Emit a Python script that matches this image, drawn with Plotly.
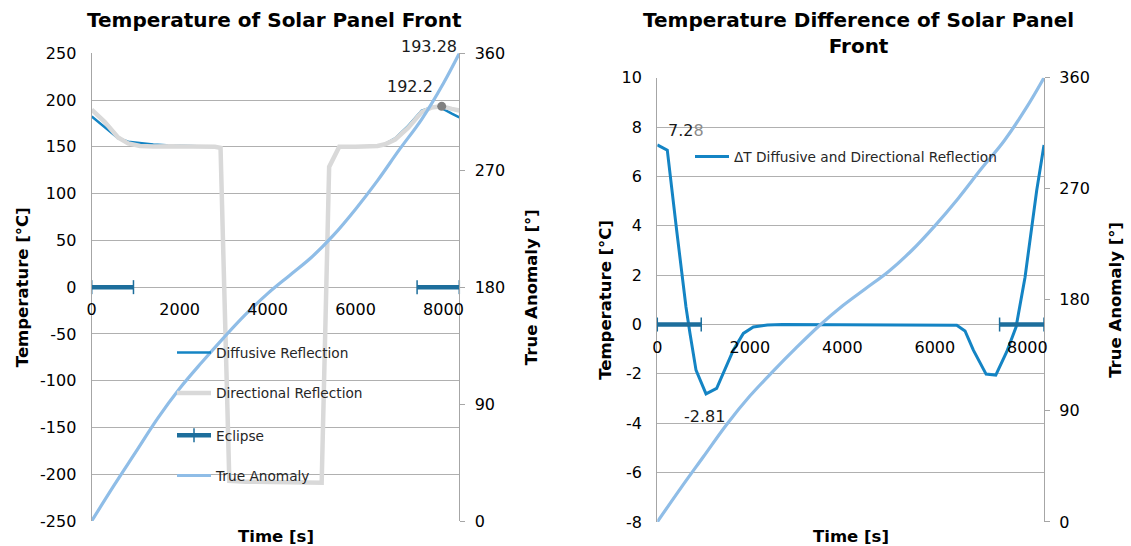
import plotly.graph_objects as go

# ---------------- data ----------------
# Left chart: temperatures of solar panel front
time_temp = [0, 300, 600, 830, 1100, 1400, 1800, 2100, 2500, 2800, 2930, 3130, 3500, 4500,
             5230, 5400, 5630, 6000, 6300, 6500, 6670, 6900, 7200, 7500, 7730, 7960, 8190, 8360]
diffusive = [182.5, 170.5, 159.2, 155.4, 153.8, 152.6, 151.3, 150.8, 150.3, 150.1, 149.0, -207, -208, -209,
             -209, 128.6, 150, 150, 150.3, 151.0, 153.0, 159.0, 172.5, 188.5, 192.2, 191.4, 185.5, 181.6]
directional = [189.8, 176.5, 160.0, 153.6, 151.0, 150.3, 150.6, 150.7, 150.3, 150.1, 149.0, -207, -208, -209,
               -209, 128.6, 150, 150, 150.3, 150.9, 152.7, 157.8, 170.5, 187.0, 192.0, 193.28, 190.6, 188.9]

# Right chart: temperature difference (directional - diffusive)
time_dt = [0, 216, 419, 620, 707, 837, 1053, 1283, 1643, 1860, 2076, 2380, 2700, 4000, 5900,
           6474, 6653, 6833, 7108, 7317, 7555, 7756, 7950, 8094, 8202, 8360]
delta_t = [7.28, 7.07, 3.81, 0.71, -0.36, -1.85, -2.81, -2.59, -1.04, -0.36, -0.10, -0.02, 0.0, 0.0, 0.0,
           -0.03, -0.26, -1.04, -2.01, -2.05, -1.10, -0.10, 1.92, 3.81, 5.43, 7.28]

# True anomaly (shared by both charts, secondary axis)
time_anom = [0, 500, 1000, 1500, 2000, 2500, 3000, 3500, 4000, 4500, 5000, 5500, 6000, 6500, 7000, 7500, 8000, 8360]
true_anomaly = [0, 27, 53, 79, 102, 122, 141, 159, 175, 189, 203, 220, 240, 262, 286, 309, 337, 360]

# Eclipse intervals (drawn on the 0 line)
eclipse_t = [0, 950, None, 7400, 8360]
eclipse_v = [0, 0, None, 0, 0]

# Data labels
peak_labels = ["193.28", "192.2"]
dt_labels = ["7.28", "-2.81"]

# Tick values / labels
x_ticks = [0, 2000, 4000, 6000, 8000]
x_ticktext = ["0", "2000", "4000", "6000", "8000"]
temp_ticks = [-250, -200, -150, -100, -50, 0, 50, 100, 150, 200, 250]
temp_ticktext = ["-250", "-200", "-150", "-100", "-50", "0", "50", "100", "150", "200", "250"]
dt_ticks = [-8, -6, -4, -2, 0, 2, 4, 6, 8, 10]
dt_ticktext = ["-8", "-6", "-4", "-2", "0", "2", "4", "6", "8", "10"]
anom_ticks = [0, 90, 180, 270, 360]
anom_ticktext = ["0", "90", "180", "270", "360"]
X_MAX = 8360

# ---------------- style ----------------
FONT = "DejaVu Sans"
W, H = 1131, 546
C_DIFF = "#1484c4"
C_DIR = "#d9d9d9"
C_ECL = "#1d6e9c"
C_ANOM = "#8fbde7"
GRID = "#b0b0b0"
AXLINE = "#a6a6a6"


def px(x):
    return x / W


def py(y):
    return 1 - y / H


fig = go.Figure()

# ---- left chart traces ----
fig.add_trace(go.Scatter(x=time_temp, y=diffusive, name="Diffusive Reflection", mode="lines",
                         line=dict(color=C_DIFF, width=2.5), xaxis="x", yaxis="y", legend="legend"))
fig.add_trace(go.Scatter(x=time_temp, y=directional, name="Directional Reflection", mode="lines",
                         line=dict(color=C_DIR, width=4.5), xaxis="x", yaxis="y", legend="legend2"))
fig.add_trace(go.Scatter(x=[time_temp[25]], y=[directional[25]], mode="markers", showlegend=False,
                         marker=dict(color="#808080", size=9), xaxis="x", yaxis="y"))
fig.add_trace(go.Scatter(x=eclipse_t, y=eclipse_v, name="Eclipse", mode="lines+markers",
                         line=dict(color=C_ECL, width=4.5),
                         marker=dict(symbol="line-ns", size=10, line=dict(color=C_ECL, width=1.5)),
                         cliponaxis=False, xaxis="x", yaxis="y", legend="legend3"))
fig.add_trace(go.Scatter(x=time_anom, y=true_anomaly, name="True Anomaly", mode="lines",
                         line=dict(color=C_ANOM, width=3.2, shape="spline"),
                         xaxis="x", yaxis="y2", legend="legend4"))

# ---- right chart traces ----
fig.add_trace(go.Scatter(x=time_dt, y=delta_t, name="ΔT Diffusive and Directional Reflection", mode="lines",
                         line=dict(color=C_DIFF, width=3), xaxis="x3", yaxis="y3", legend="legend5"))
fig.add_trace(go.Scatter(x=eclipse_t, y=eclipse_v, mode="lines+markers", showlegend=False,
                         line=dict(color=C_ECL, width=4.5),
                         marker=dict(symbol="line-ns", size=10, line=dict(color=C_ECL, width=1.5)),
                         cliponaxis=False, xaxis="x3", yaxis="y3"))
fig.add_trace(go.Scatter(x=time_anom, y=true_anomaly, mode="lines", showlegend=False,
                         line=dict(color=C_ANOM, width=3.2, shape="spline"),
                         xaxis="x3", yaxis="y4"))

tickfont = dict(family=FONT, size=16, color="#000000")

L_X0, L_X1 = 91.7, 459.3
L_Y0, L_Y1 = 53.3, 521.0
R_X0, R_X1 = 657.3, 1044.0
R_Y0, R_Y1 = 77.8, 521.9

common_x = dict(range=[0, X_MAX], tickvals=x_ticks, ticktext=x_ticktext, showgrid=False, showline=False,
                zeroline=False, ticks="", tickfont=tickfont, anchor="free", ticklabelstandoff=11,
                automargin=False)
common_y = dict(showgrid=True, gridcolor=GRID, gridwidth=1.3, showline=True, linecolor=AXLINE,
                linewidth=1.3, zeroline=False, ticks="", tickfont=tickfont, ticklabelstandoff=11,
                automargin=False)
common_y2 = dict(range=[0, 360], tickvals=anom_ticks, ticktext=anom_ticktext, side="right", showgrid=False,
                 showline=True, linecolor=AXLINE, linewidth=1.3, ticks="outside", ticklen=5, tickcolor=AXLINE,
                 zeroline=False, tickfont=tickfont, ticklabelstandoff=6, automargin=False)

fig.update_layout(
    template="none",
    width=W, height=H,
    margin=dict(l=0, r=0, t=0, b=0, pad=0),
    paper_bgcolor="white", plot_bgcolor="white",
    font=dict(family=FONT, color="#000000"),
    xaxis=dict(domain=[px(L_X0), px(L_X1)], position=py(L_Y0 + (L_Y1 - L_Y0) / 2), **common_x),
    yaxis=dict(domain=[py(L_Y1), py(L_Y0)], range=[-250, 250], tickvals=temp_ticks, ticktext=temp_ticktext,
               anchor="x", **common_y),
    yaxis2=dict(overlaying="y", anchor="x", **common_y2),
    xaxis3=dict(domain=[px(R_X0), px(R_X1)], position=py(R_Y0 + (R_Y1 - R_Y0) * 10 / 18), **common_x),
    yaxis3=dict(domain=[py(R_Y1), py(R_Y0)], range=[-8, 10], tickvals=dt_ticks, ticktext=dt_ticktext,
                anchor="x3", **common_y),
    yaxis4=dict(overlaying="y3", anchor="x3", **common_y2),
    showlegend=True,
)

leg_common = dict(bgcolor="rgba(0,0,0,0)", font=dict(family=FONT, size=13.7, color="#262626"),
                  xanchor="left", yanchor="middle", borderwidth=0, itemwidth=34)
fig.update_layout(
    legend=dict(x=px(172), y=py(352.5), **leg_common),
    legend2=dict(x=px(172), y=py(393.2), **leg_common),
    legend3=dict(x=px(172), y=py(435.3), **leg_common),
    legend4=dict(x=px(172), y=py(475.6), **leg_common),
    legend5=dict(x=px(690), y=py(156.7), **leg_common),
)

ann = []
title_font = dict(family=FONT, size=20, color="#000000")
# titles
ann.append(dict(text="<b>Temperature of Solar Panel Front</b>", x=px(274), y=py(20)))
ann.append(dict(text="<b>Temperature Difference of Solar Panel<br>Front</b>", x=px(858), y=py(32.5)))
for a in ann:
    a.update(font=title_font)
# axis titles
bold = dict(family=FONT, size=16.5, color="#000000")
axis_titles = [
    ("<b>Temperature [°C]</b>", 22, (L_Y0 + L_Y1) / 2, -90),
    ("<b>True Anomaly [°]</b>", 531, (L_Y0 + L_Y1) / 2, -90),
    ("<b>Time [s]</b>", (L_X0 + L_X1) / 2, 536, 0),
    ("<b>Temperature [°C]</b>", 606, (R_Y0 + R_Y1) / 2, -90),
    ("<b>True Anomaly [°]</b>", 1116, (R_Y0 + R_Y1) / 2, -90),
    ("<b>Time [s]</b>", (R_X0 + R_X1) / 2, 536, 0),
]
for txt, ax_, ay_, ang in axis_titles:
    ann.append(dict(text=txt, x=px(ax_), y=py(ay_), textangle=ang, font=bold))
for a in ann:
    a.update(xref="paper", yref="paper", showarrow=False, xanchor="center", yanchor="middle")

# data labels
lab_font = dict(family=FONT, size=16, color="#1a1a1a")
labs = [
    dict(text=peak_labels[0], x=7671, y=py(46), xref="x", yref="paper"),
    dict(text=peak_labels[1], x=7239, y=214, xref="x", yref="y"),
    dict(text=dt_labels[0][:3] + "<span style='color:#8c8c8c'>" + dt_labels[0][3:] + "</span>",
         x=620, y=7.85, xref="x3", yref="y3"),
    dict(text=dt_labels[1], x=1031, y=-3.73, xref="x3", yref="y3"),
]
for a in labs:
    a.update(showarrow=False, font=lab_font, xanchor="center", yanchor="middle")
ann.extend(labs)
fig.update_layout(annotations=ann)

fig.write_html("out.html", config={"displayModeBar": False},
               post_script="document.body.style.margin='0';document.body.style.padding='0';")
